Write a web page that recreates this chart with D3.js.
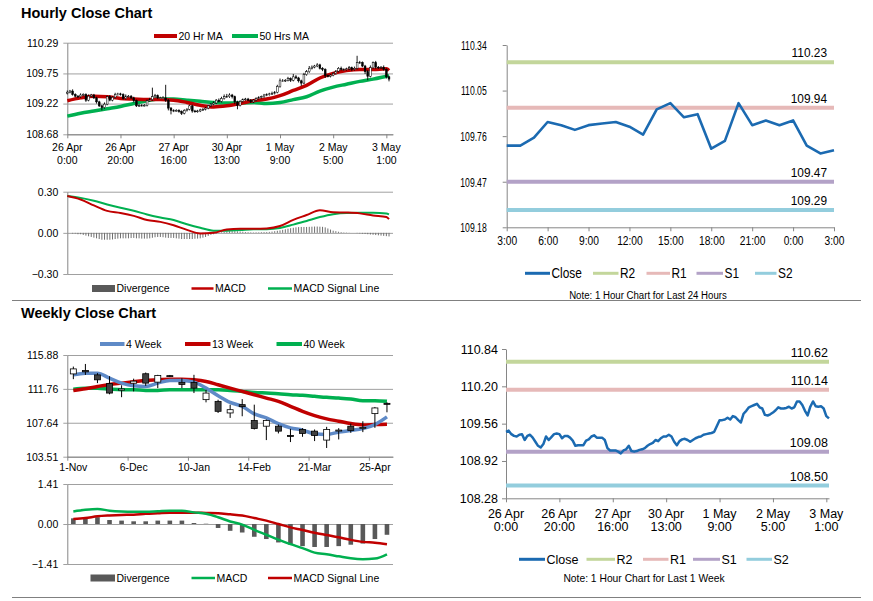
<!DOCTYPE html>
<html>
<head>
<meta charset="utf-8">
<script src="https://cdn.jsdelivr.net/npm/d3@7"></script>
<style>
  body { margin: 0; background: #fff; }
  svg { font-family: "Liberation Sans", Arial, sans-serif; }
</style>
</head>
<body>
<svg width="873" height="601"></svg>
<script>
// ---------- data ----------
// hourly closes, 26 Apr 0:00 .. 3 May 2:00 (shared by the candle chart and the 1 week line)
const hourTickLabels = [["26 Apr", "0:00"], ["26 Apr", "20:00"], ["27 Apr", "16:00"], ["30 Apr", "13:00"],
  ["1 May", "9:00"], ["2 May", "5:00"], ["3 May", "1:00"]];
const hourlyClose = [
  109.42, 109.44, 109.38, 109.35, 109.34, 109.37, 109.38, 109.28, 109.35, 109.37,
  109.32, 109.25, 109.18, 109.15, 109.21, 109.34, 109.28, 109.33, 109.38, 109.39,
  109.38, 109.31, 109.35, 109.35, 109.32, 109.27, 109.18, 109.19, 109.19, 109.19,
  109.27, 109.29, 109.34, 109.36, 109.32, 109.32, 109.32, 109.28, 109.14, 109.10,
  109.10, 109.10, 109.08, 109.05, 109.10, 109.12, 109.18, 109.09, 109.08, 109.09,
  109.11, 109.12, 109.14, 109.18, 109.21, 109.23, 109.28, 109.26, 109.31, 109.34,
  109.34, 109.37, 109.34, 109.25, 109.19, 109.26, 109.29, 109.30, 109.28, 109.25,
  109.28, 109.31, 109.33, 109.34, 109.37, 109.38, 109.39, 109.40, 109.42, 109.52,
  109.62, 109.62, 109.63, 109.66, 109.63, 109.69, 109.67, 109.62, 109.58, 109.73,
  109.78, 109.84, 109.86, 109.88, 109.90, 109.84, 109.82, 109.71, 109.70, 109.72,
  109.75, 109.79, 109.84, 109.82, 109.82, 109.83, 109.85, 109.82, 109.84, 109.94,
  109.94, 109.88, 109.78, 109.70, 109.85, 109.94, 109.86, 109.85, 109.86, 109.82,
  109.69, 109.65];
const firstOpen = 109.40;
const wickUp = [
  .03, .02, .03, .02, .02, .03, .02, .02, .03, .02,
  .02, .02, .02, .02, .03, .02, .03, .02, .03, .02,
  .02, .02, .03, .02, .02, .02, .02, .02, .02, .02,
  .02, .03, .16, .03, .02, .02, .03, .23, .02, .02,
  .02, .02, .02, .02, .02, .02, .02, .02, .02, .02,
  .02, .02, .02, .02, .02, .03, .02, .03, .03, .04,
  .05, .03, .02, .02, .02, .02, .02, .02, .02, .02,
  .02, .02, .02, .02, .02, .02, .02, .03, .02, .03,
  .04, .03, .02, .03, .02, .05, .03, .02, .02, .03,
  .03, .04, .03, .02, .03, .02, .02, .02, .02, .02,
  .02, .02, .02, .03, .02, .02, .03, .02, .03, .12,
  .03, .02, .02, .03, .04, .02, .03, .02, .02, .03,
  .02, .02];
const wickDn = [
  .02, .02, .02, .02, .02, .02, .02, .03, .02, .02,
  .02, .03, .02, .05, .02, .02, .02, .02, .02, .02,
  .02, .02, .02, .02, .02, .03, .02, .02, .02, .02,
  .02, .02, .02, .02, .02, .02, .02, .03, .04, .07,
  .03, .02, .02, .03, .02, .02, .02, .03, .02, .02,
  .02, .02, .02, .02, .02, .02, .02, .02, .02, .02,
  .02, .02, .03, .04, .07, .02, .02, .02, .02, .02,
  .02, .02, .02, .02, .02, .02, .02, .02, .02, .02,
  .02, .02, .02, .02, .03, .02, .02, .03, .05, .02,
  .02, .02, .02, .02, .02, .02, .03, .04, .02, .02,
  .02, .02, .02, .02, .02, .02, .02, .03, .02, .02,
  .02, .02, .04, .07, .02, .02, .03, .02, .02, .02,
  .03, .04];

// moving averages and MACD read every 5 hours
const sampleHours = [0, 5, 10, 15, 20, 25, 30, 35, 40, 45, 50, 55, 60, 65, 70, 75, 80, 85, 90, 95, 100, 105, 110, 115, 120, 121];
const ma20 = [109.27, 109.32, 109.35, 109.34, 109.31, 109.30, 109.29, 109.29, 109.28, 109.24, 109.19, 109.16, 109.18,
  109.22, 109.27, 109.30, 109.36, 109.45, 109.54, 109.67, 109.75, 109.80, 109.82, 109.82, 109.83, 109.80];
const ma50 = [109.00, 109.05, 109.09, 109.13, 109.17, 109.22, 109.27, 109.30, 109.30, 109.28, 109.26, 109.24, 109.23,
  109.23, 109.24, 109.22, 109.24, 109.29, 109.34, 109.44, 109.51, 109.56, 109.61, 109.65, 109.70, 109.71];
const hourlyMacd = [0.268, 0.243, 0.200, 0.160, 0.145, 0.124, 0.093, 0.080, 0.056, 0.022, -0.004, 0.000, 0.024,
  0.030, 0.029, 0.032, 0.050, 0.095, 0.130, 0.165, 0.150, 0.148, 0.142, 0.126, 0.115, 0.100];
const hourlySignal = [0.268, 0.255, 0.234, 0.207, 0.183, 0.161, 0.134, 0.112, 0.093, 0.063, 0.037, 0.016, 0.015,
  0.020, 0.026, 0.027, 0.036, 0.060, 0.087, 0.115, 0.136, 0.145, 0.146, 0.146, 0.141, 0.135];
const hourlyDiv = [
  0, 0, -0.005, -0.005, -0.01, -0.01, -0.015, -0.02, -0.025, -0.03,
  -0.035, -0.04, -0.045, -0.05, -0.05, -0.05, -0.05, -0.048, -0.045, -0.042,
  -0.04, -0.04, -0.04, -0.04, -0.038, -0.037, -0.04, -0.04, -0.042, -0.042,
  -0.042, -0.04, -0.036, -0.032, -0.03, -0.03, -0.032, -0.035, -0.037, -0.037,
  -0.037, -0.04, -0.042, -0.045, -0.045, -0.045, -0.045, -0.045, -0.043, -0.042,
  -0.04, -0.035, -0.03, -0.022, -0.015, -0.01, -0.005, 0, 0.004, 0.008,
  0.01, 0.012, 0.012, 0.012, 0.011, 0.01, 0.008, 0.006, 0.005, 0.004,
  0.003, 0.004, 0.004, 0.005, 0.006, 0.006, 0.007, 0.009, 0.012, 0.015,
  0.018, 0.022, 0.026, 0.03, 0.034, 0.037, 0.04, 0.042, 0.043, 0.043,
  0.043, 0.044, 0.045, 0.046, 0.046, 0.045, 0.044, 0.04, 0.032, 0.024,
  0.016, 0.012, 0.008, 0.005, 0.003, 0.002, 0.001, 0, 0, -0.002,
  -0.004, -0.006, -0.008, -0.01, -0.012, -0.014, -0.016, -0.018, -0.02, -0.022,
  -0.024, -0.026];

// last 24 hours
const dayLabels = ["3:00", "6:00", "9:00", "12:00", "15:00", "18:00", "21:00", "0:00", "3:00"];
const dayClose = [109.70, 109.70, 109.75, 109.85, 109.83, 109.80, 109.83, 109.84, 109.85, 109.82, 109.77, 109.93,
  109.97, 109.88, 109.90, 109.68, 109.73, 109.97, 109.83, 109.86, 109.83, 109.86, 109.70, 109.65, 109.67];
const levelNames = ["R2", "R1", "S1", "S2"];
const dayLevels = [110.23, 109.94, 109.47, 109.29];
const weekLevels = [110.62, 110.14, 109.08, 108.50];

// weekly
const weekLabels = ["1-Nov", "6-Dec", "10-Jan", "14-Feb", "21-Mar", "25-Apr"];
const weekOpen = [113.58, 113.99, 113.46, 112.40, 111.60, 112.45, 113.60, 112.58, 113.37, 112.55, 112.53, 110.45, 110.24,
  108.83, 109.84, 107.91, 107.22, 107.22, 106.10, 106.82, 106.62, 105.53, 106.65, 107.22, 107.00, 108.75, 110.00];
const weekHigh = [114.47, 114.79, 113.67, 113.30, 112.20, 113.00, 113.75, 113.47, 113.45, 113.05, 113.47, 111.65, 110.44,
  109.84, 110.52, 109.84, 108.03, 107.42, 106.90, 106.98, 106.82, 107.14, 106.98, 107.54, 107.82, 109.56, 110.12];
const weekLow = [112.94, 113.46, 112.46, 111.10, 110.75, 111.45, 112.13, 111.85, 113.20, 111.85, 111.25, 110.12, 108.83,
  108.23, 108.43, 106.82, 105.53, 106.34, 105.29, 105.93, 105.41, 104.57, 105.61, 106.42, 106.50, 107.02, 108.91];
const weekClose = [114.19, 113.83, 112.86, 111.25, 111.75, 112.70, 112.46, 113.38, 113.30, 112.30, 111.85, 111.25, 109.03,
  109.23, 109.60, 106.94, 107.91, 106.62, 106.05, 106.34, 106.10, 106.82, 106.75, 106.70, 107.05, 109.44, 109.95];
const ma4w = [113.46, 113.67, 113.67, 113.06, 112.46, 112.13, 112.05, 112.46, 112.78, 112.78, 112.58, 111.85, 110.93,
  110.12, 109.64, 108.71, 108.23, 107.54, 107.02, 106.74, 106.30, 106.21, 106.50, 106.70, 106.94, 107.42, 108.35];
const ma13w = [111.57, 111.77, 112.05, 112.30, 112.46, 112.62, 112.78, 112.86, 112.94, 112.94, 112.86, 112.66, 112.26,
  111.85, 111.45, 111.05, 110.64, 110.24, 109.64, 109.03, 108.51, 108.11, 107.83, 107.54, 107.38, 107.42, 107.46];
const ma40w = [111.73, 111.85, 111.85, 111.73, 111.65, 111.65, 111.57, 111.57, 111.65, 111.65, 111.65, 111.65, 111.65,
  111.57, 111.45, 111.33, 111.25, 111.17, 111.05, 110.97, 110.85, 110.73, 110.64, 110.52, 110.32, 110.32, 110.24];
const weekMacd = [0.44, 0.50, 0.53, 0.47, 0.44, 0.43, 0.43, 0.45, 0.47, 0.47, 0.41, 0.36, 0.24, 0.09, -0.02, -0.21,
  -0.38, -0.55, -0.71, -0.85, -1.01, -1.07, -1.14, -1.21, -1.24, -1.22, -1.07];
const weekSignal = [0.18, 0.21, 0.27, 0.30, 0.32, 0.33, 0.36, 0.38, 0.40, 0.40, 0.40, 0.39, 0.38, 0.34, 0.30, 0.21,
  0.12, 0.00, -0.12, -0.21, -0.31, -0.39, -0.47, -0.56, -0.63, -0.66, -0.71];
const weekDiv = [0.20, 0.20, 0.24, 0.14, 0.12, 0.095, 0.095, 0.12, 0.12, 0.12, 0.035, 0.01, -0.14, -0.24, -0.30, -0.45,
  -0.53, -0.65, -0.73, -0.78, -0.81, -0.81, -0.78, -0.73, -0.69, -0.53, -0.38];

// ---------- styles ----------
const GRID = "#a0a0a0", AXIS = "#868686";
const RED = "#c00000", GREEN = "#00b050", BLUE4 = "#5f8ac7", CLOSE = "#1b6ab1";
const levelColors = ["#c3d69b", "#e6b9b8", "#b3a2c7", "#93cddd"];

const svg = d3.select("svg");
const fmt2 = d3.format(".2f");

// horizontal squeeze round each text's own x (the 24h panel uses a condensed face)
function squeeze(sel, k) {
  sel.each(function () {
    const x = +(this.getAttribute("x") || 0);
    d3.select(this).attr("transform", `translate(${x},0) scale(${k},1) translate(${-x},0)`);
  });
}

// y axis with labels, optional gridlines
function yAxis(y, vals, x0, x1, opts) {
  const g = svg.append("g").attr("transform", `translate(${x0},0)`);
  if (opts.grid) {
    g.append("g")
      .call(d3.axisLeft(y).tickValues(vals).tickSize(-(x1 - x0)).tickFormat(""))
      .call(a => a.select(".domain").remove())
      .selectAll("line").attr("stroke", GRID);
  }
  const ax = g.append("g")
    .call(d3.axisLeft(y).tickValues(vals).tickSize(4).tickSizeOuter(0).tickPadding(opts.pad).tickFormat(fmt2));
  ax.attr("font-family", null).attr("font-size", null);
  ax.select(".domain").attr("stroke", AXIS);
  ax.selectAll(".tick line").attr("stroke", opts.grid ? GRID : AXIS);
  ax.selectAll("text").attr("font-size", opts.fs).attr("fill", "#000");
  if (opts.squeeze) squeeze(ax.selectAll("text"), opts.squeeze);
  return ax;
}

function xTicks(x, vals, y0) {
  const ax = svg.append("g").attr("transform", `translate(0,${y0})`)
    .call(d3.axisBottom(x).tickValues(vals).tickSize(4).tickSizeOuter(0).tickFormat(""));
  ax.select(".domain").attr("stroke", AXIS);
  ax.selectAll(".tick line").attr("stroke", AXIS);
}

function legendLine(x1, x2, y, color, w, label, fs, k) {
  svg.append("line").attr("x1", x1).attr("x2", x2).attr("y1", y).attr("y2", y)
    .attr("stroke", color).attr("stroke-width", w);
  const t = svg.append("text").attr("x", x2 + 1.5).attr("y", y).attr("dy", "0.35em")
    .attr("font-size", fs).text(label);
  if (k) squeeze(t, k);
}

function legendBox(x1, x2, y, label) {
  svg.append("rect").attr("x", x1).attr("y", y - 3.5).attr("width", x2 - x1).attr("height", 7).attr("fill", "#595959");
  svg.append("text").attr("x", x2 + 1.5).attr("y", y).attr("dy", "0.35em").attr("font-size", 10.5).text(label);
}

function title(text, y) {
  svg.append("text").attr("x", 21).attr("y", y).attr("font-size", 14.5).attr("font-weight", "bold").text(text);
}

// ---------- hourly candle chart ----------
title("Hourly Close Chart", 18);
const hx = d3.scaleLinear().domain([0, 122.5]).range([67.3, 393]);
const hy = d3.scaleLinear().domain([108.68, 110.29]).range([134.3, 42.7]);
yAxis(hy, [108.68, 109.22, 109.75, 110.29], 67.3, 393, { grid: true, pad: 5, fs: 10.5 });
xTicks(hx, d3.range(0, 121, 20), 134.3);
hourTickLabels.forEach((l, k) => {
  const t = svg.append("text").attr("text-anchor", "middle").attr("font-size", 10.5);
  t.append("tspan").attr("x", hx(k * 20)).attr("y", 150.5).text(l[0]);
  t.append("tspan").attr("x", hx(k * 20)).attr("y", 164).text(l[1]);
});

const maLine = d3.line().x((d, j) => hx(sampleHours[j])).y(d => hy(d)).curve(d3.curveMonotoneX);
svg.append("path").attr("d", maLine(ma50)).attr("fill", "none").attr("stroke", GREEN).attr("stroke-width", 3.5);
svg.append("path").attr("d", maLine(ma20)).attr("fill", "none").attr("stroke", RED).attr("stroke-width", 3.5);

// open of each hour taken as the previous hour's close
const hourlyOpen = hourlyClose.map((c, i) => i ? hourlyClose[i - 1] : firstOpen);
const hc = svg.append("g").selectAll("g").data(hourlyClose).join("g");
hc.append("line")
  .attr("x1", (d, i) => hx(i)).attr("x2", (d, i) => hx(i))
  .attr("y1", (d, i) => hy(Math.max(d, hourlyOpen[i]) + wickUp[i]))
  .attr("y2", (d, i) => hy(Math.min(d, hourlyOpen[i]) - wickDn[i]))
  .attr("stroke", "#000").attr("stroke-width", 0.9);
hc.append("rect")
  .attr("x", (d, i) => hx(i) - 0.9).attr("width", 1.8)
  .attr("y", (d, i) => hy(Math.max(d, hourlyOpen[i])))
  .attr("height", (d, i) => Math.max(0.8, hy(Math.min(d, hourlyOpen[i])) - hy(Math.max(d, hourlyOpen[i]))))
  .attr("fill", (d, i) => d >= hourlyOpen[i] ? "#fff" : "#000").attr("stroke", "#000").attr("stroke-width", 0.5);

legendLine(154, 177, 36, RED, 4, "20 Hr MA", 10.5);
legendLine(232, 258, 36, GREEN, 4, "50 Hrs MA", 10.5);

// ---------- hourly MACD ----------
const my = d3.scaleLinear().domain([-0.30, 0.30]).range([274, 191.7]);
yAxis(my, [-0.30, 0.00, 0.30], 67.3, 393, { grid: true, pad: 5, fs: 10.5 });
svg.append("g").selectAll("rect").data(hourlyDiv).join("rect")
  .attr("x", (d, i) => hx(i) - 0.5).attr("width", 1)
  .attr("y", d => Math.min(my(0), my(d))).attr("height", d => Math.abs(my(d) - my(0)))
  .attr("fill", "#6f6f6f");
const macdLine = d3.line().x((d, j) => hx(sampleHours[j])).y(d => my(d)).curve(d3.curveMonotoneX);
svg.append("path").attr("d", macdLine(hourlySignal)).attr("fill", "none").attr("stroke", GREEN).attr("stroke-width", 2);
svg.append("path").attr("d", macdLine(hourlyMacd)).attr("fill", "none").attr("stroke", RED).attr("stroke-width", 2);
legendBox(92, 115, 288.5, "Divergence");
legendLine(191.5, 213.5, 288.5, RED, 2.5, "MACD", 10.5);
legendLine(268, 292, 288.5, GREEN, 2.5, "MACD Signal Line", 10.5);

// ---------- last 24 hours ----------
const dx = d3.scaleLinear().domain([0, 24]).range([506.7, 834]);
const dy = d3.scaleLinear().domain([109.18, 110.34]).range([227.3, 45]);
yAxis(dy, [109.18, 109.47, 109.76, 110.05, 110.34], 506.7, 834, { grid: false, pad: 16, fs: 13.5, squeeze: 0.64 });
const dax = svg.append("g").attr("transform", "translate(0,227.3)")
  .call(d3.axisBottom(dx).tickValues(d3.range(0, 25, 3)).tickSize(4).tickSizeOuter(0).tickPadding(4.5)
    .tickFormat((d, k) => dayLabels[k]));
dax.attr("font-family", null).attr("font-size", null);
dax.select(".domain").attr("stroke", AXIS);
dax.selectAll(".tick line").attr("stroke", AXIS);
dax.selectAll("text").attr("font-size", 13.5).attr("fill", "#000");
squeeze(dax.selectAll("text"), 0.76);

dayLevels.forEach((v, k) => {
  svg.append("line").attr("x1", 506.7).attr("x2", 834).attr("y1", dy(v)).attr("y2", dy(v))
    .attr("stroke", levelColors[k]).attr("stroke-width", 4);
  const t = svg.append("text").attr("x", 827).attr("y", dy(v) - 5).attr("text-anchor", "end")
    .attr("font-size", 13.5).text(fmt2(v));
  squeeze(t, 0.88);
});
svg.append("path").attr("d", d3.line().x((d, i) => dx(i)).y(d => dy(d))(dayClose))
  .attr("fill", "none").attr("stroke", CLOSE).attr("stroke-width", 2.6).attr("stroke-linejoin", "round");
legendLine(525, 550, 273.3, CLOSE, 3, "Close", 14, 0.85);
[[593, 618.5], [646.5, 670], [696.5, 723], [755, 776.5]].forEach((p, k) =>
  legendLine(p[0], p[1], 273.3, levelColors[k], 3, levelNames[k], 14, 0.85));
const note1 = svg.append("text").attr("x", 648).attr("y", 295).attr("dy", "0.35em").attr("text-anchor", "middle")
  .attr("font-size", 11.5).text("Note: 1 Hour Chart for Last 24 Hours");
squeeze(note1, 0.84);

// separators
svg.append("line").attr("x1", 12).attr("x2", 861).attr("y1", 300.5).attr("y2", 300.5).attr("stroke", "#808080");
svg.append("line").attr("x1", 12).attr("x2", 861).attr("y1", 597.5).attr("y2", 597.5).attr("stroke", "#808080");

// ---------- weekly candle chart ----------
title("Weekly Close Chart", 318);
const wx = d3.scaleBand().domain(d3.range(weekClose.length)).range([67.3, 393]);
const wc = i => wx(i) + wx.bandwidth() / 2;
const wEdge = d3.scaleLinear().domain([0, weekClose.length]).range([67.3, 393]);
const wy = d3.scaleLinear().domain([103.51, 115.88]).range([456.7, 355]);
yAxis(wy, [103.51, 107.64, 111.76, 115.88], 67.3, 393, { grid: true, pad: 5, fs: 10.5 });
xTicks(wEdge, d3.range(0, 26, 5), 456.7);
weekLabels.forEach((l, k) => {
  svg.append("text").attr("x", wc(k * 5)).attr("y", 470.5).attr("text-anchor", "middle").attr("font-size", 10.5).text(l);
});
const wLine = d3.line().x((d, i) => wc(i)).y(d => wy(d)).curve(d3.curveMonotoneX);
svg.append("path").attr("d", wLine(ma40w)).attr("fill", "none").attr("stroke", GREEN).attr("stroke-width", 3.5);
svg.append("path").attr("d", wLine(ma13w)).attr("fill", "none").attr("stroke", RED).attr("stroke-width", 3.5);
svg.append("path").attr("d", wLine(ma4w)).attr("fill", "none").attr("stroke", BLUE4).attr("stroke-width", 3.5);

const wk = svg.append("g").selectAll("g").data(weekClose).join("g");
wk.append("line")
  .attr("x1", (d, i) => wc(i)).attr("x2", (d, i) => wc(i))
  .attr("y1", (d, i) => wy(weekHigh[i])).attr("y2", (d, i) => wy(weekLow[i]))
  .attr("stroke", "#000").attr("stroke-width", 1);
wk.append("rect")
  .attr("x", (d, i) => wc(i) - 3).attr("width", 6)
  .attr("y", (d, i) => wy(Math.max(d, weekOpen[i])))
  .attr("height", (d, i) => Math.max(1, wy(Math.min(d, weekOpen[i])) - wy(Math.max(d, weekOpen[i]))))
  .attr("fill", (d, i) => d >= weekOpen[i] ? "#fff" : "#404040").attr("stroke", "#000").attr("stroke-width", 0.8);

legendLine(100, 124.5, 344, BLUE4, 4, "4 Week", 10.5);
legendLine(185, 210.5, 344, RED, 4, "13 Week", 10.5);
legendLine(276.5, 302, 344, GREEN, 4, "40 Week", 10.5);

// ---------- weekly MACD ----------
const wmy = d3.scaleLinear().domain([-1.41, 1.41]).range([564, 484]);
yAxis(wmy, [-1.41, 0.00, 1.41], 67.3, 393, { grid: true, pad: 5, fs: 10.5 });
svg.append("g").selectAll("rect").data(weekDiv).join("rect")
  .attr("x", (d, i) => wc(i) - 2.3).attr("width", 4.6)
  .attr("y", d => Math.min(wmy(0), wmy(d))).attr("height", d => Math.abs(wmy(d) - wmy(0)))
  .attr("fill", "#595959");
const wmLine = d3.line().x((d, i) => wc(i)).y(d => wmy(d)).curve(d3.curveMonotoneX);
svg.append("path").attr("d", wmLine(weekSignal)).attr("fill", "none").attr("stroke", RED).attr("stroke-width", 2.5);
svg.append("path").attr("d", wmLine(weekMacd)).attr("fill", "none").attr("stroke", GREEN).attr("stroke-width", 2.5);
legendBox(90.5, 115, 578, "Divergence");
legendLine(191.5, 215, 578, GREEN, 2.5, "MACD", 10.5);
legendLine(268, 292, 578, RED, 2.5, "MACD Signal Line", 10.5);

// ---------- last 1 week ----------
const ex = d3.scaleLinear().domain([0, 121]).range([506, 829]);
const ey = d3.scaleLinear().domain([108.28, 110.84]).range([498.3, 349]);
yAxis(ey, [108.28, 108.92, 109.56, 110.20, 110.84], 506, 829, { grid: false, pad: 4, fs: 12.5 });
xTicks(ex, d3.range(0, 121, 20), 498.3);
hourTickLabels.forEach((l, k) => {
  const t = svg.append("text").attr("text-anchor", "middle").attr("font-size", 12.5);
  t.append("tspan").attr("x", ex(k * 20)).attr("y", 517.5).text(l[0]);
  t.append("tspan").attr("x", ex(k * 20)).attr("y", 531).text(l[1]);
});
weekLevels.forEach((v, k) => {
  svg.append("line").attr("x1", 506).attr("x2", 829).attr("y1", ey(v)).attr("y2", ey(v))
    .attr("stroke", levelColors[k]).attr("stroke-width", 4);
  svg.append("text").attr("x", 828).attr("y", ey(v) - 4.5).attr("text-anchor", "end")
    .attr("font-size", 12.5).text(fmt2(v));
});
svg.append("path").attr("d", d3.line().x((d, i) => ex(i)).y(d => ey(d))(hourlyClose))
  .attr("fill", "none").attr("stroke", CLOSE).attr("stroke-width", 2.5).attr("stroke-linejoin", "round");
legendLine(519, 545, 559.3, CLOSE, 3, "Close", 12.5);
[[586.5, 615], [643, 668.5], [693, 720], [746.5, 772]].forEach((p, k) =>
  legendLine(p[0], p[1], 559.3, levelColors[k], 3, levelNames[k], 12.5));
svg.append("text").attr("x", 644).attr("y", 578.3).attr("dy", "0.35em").attr("text-anchor", "middle")
  .attr("font-size", 10.3).text("Note: 1 Hour Chart for Last 1 Week");
</script>
</body>
</html>
